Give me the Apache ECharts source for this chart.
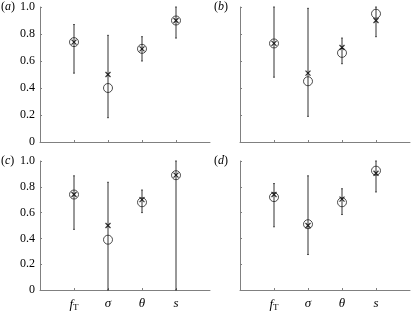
<!DOCTYPE html>
<html><head><meta charset="utf-8">
<script src="https://cdn.jsdelivr.net/npm/echarts@6/dist/echarts.min.js"></script>
<style>html,body{margin:0;padding:0;background:#fff}#c{width:411px;height:312px}</style>
</head><body><div id="c"></div>
<script>
var categories = ['f_T', 'σ', 'θ', 's'];
var panelLabels = ['a', 'b', 'c', 'd'];
var yTicks = [0, 0.2, 0.4, 0.6, 0.8, 1.0];

var aCircle = [0.74, 0.40, 0.69, 0.90];
var aCross  = [0.74, 0.50, 0.69, 0.90];
var aLow    = [0.51, 0.18, 0.60, 0.77];
var aHigh   = [0.87, 0.79, 0.78, 1.00];

var bCircle = [0.73, 0.45, 0.66, 0.95];
var bCross  = [0.73, 0.51, 0.70, 0.90];
var bLow    = [0.48, 0.19, 0.58, 0.78];
var bHigh   = [1.00, 0.99, 0.77, 1.00];

var cCircle = [0.74, 0.39, 0.68, 0.89];
var cCross  = [0.74, 0.50, 0.70, 0.89];
var cLow    = [0.47, 0.00, 0.60, 0.00];
var cHigh   = [0.885, 0.835, 0.775, 1.00];

var dCircle = [0.72, 0.51, 0.68, 0.925];
var dCross  = [0.74, 0.50, 0.705, 0.905];
var dLow    = [0.49, 0.275, 0.585, 0.76];
var dHigh   = [0.825, 0.885, 0.785, 1.00];

var panels = [
  {circle: aCircle, cross: aCross, low: aLow, high: aHigh},
  {circle: bCircle, cross: bCross, low: bLow, high: bHigh},
  {circle: cCircle, cross: cCross, low: cLow, high: cHigh},
  {circle: dCircle, cross: dCross, low: dLow, high: dHigh}
];

var grids = [
  {left: 40, top: 7, width: 170, height: 135},
  {left: 240, top: 7, width: 170, height: 135},
  {left: 40, top: 161, width: 170, height: 133},
  {left: 240, top: 161, width: 170, height: 133}
];

var serif = '"Liberation Serif"';
var axisColor = '#808080';

var chart = echarts.init(document.getElementById('c'), null, {renderer: 'canvas'});

var xAxes = [], yAxes = [], series = [], graphics = [];

panels.forEach(function (p, i) {
  var bottom = i >= 2, left = (i % 2) === 0;
  xAxes.push({
    gridIndex: i, type: 'value', min: 0, max: 5, interval: 1,
    axisLine: {show: true, lineStyle: {color: axisColor, width: 1}},
    splitLine: {show: false},
    axisTick: {show: true, inside: true, length: 2, lineStyle: {color: axisColor}, customValues: [1, 2, 3, 4]},
    axisLabel: {
      show: bottom, margin: 7, customValues: [1, 2, 3, 4],
      formatter: function (v) {
        var n = categories[v - 1];
        if (n === 'f_T') return '{it|f}{sub|T}';
        return '{it|' + n + '}';
      },
      rich: {
        it: {fontFamily: serif, fontStyle: 'italic', fontSize: 13, color: '#000'},
        sub: {fontFamily: serif, fontSize: 9, color: '#000', verticalAlign: 'bottom', padding: [6, 0, 0, 0]}
      }
    }
  });
  yAxes.push({
    gridIndex: i, type: 'value', min: 0, max: 1, interval: 0.2,
    axisLine: {show: true, lineStyle: {color: axisColor, width: 1}},
    splitLine: {show: false},
    axisTick: {show: true, inside: true, length: 2, lineStyle: {color: axisColor}},
    axisLabel: {
      show: left, margin: 5, fontFamily: serif, fontSize: 12, color: '#000',
      formatter: function (v) { return v === 0 ? '0' : v.toFixed(1); }
    }
  });
  var bars = p.low.map(function (lo, k) { return [k + 1, lo, p.high[k]]; });
  series.push({
    type: 'custom', xAxisIndex: i, yAxisIndex: i, data: bars, z: 2,
    renderItem: function (params, api) {
      var x = api.value(0);
      var lo = api.coord([x, api.value(1)]);
      var hi = api.coord([x, api.value(2)]);
      var st = {stroke: '#333', lineWidth: 1};
      return {type: 'group', children: [
        {type: 'line', shape: {x1: lo[0], y1: lo[1], x2: hi[0], y2: hi[1]}, style: st},
        {type: 'line', shape: {x1: lo[0] - 0.8, y1: lo[1], x2: lo[0] + 0.8, y2: lo[1]}, style: st},
        {type: 'line', shape: {x1: hi[0] - 0.8, y1: hi[1], x2: hi[0] + 0.8, y2: hi[1]}, style: st}
      ]};
    }
  });
  series.push({
    type: 'scatter', xAxisIndex: i, yAxisIndex: i, z: 3,
    data: p.circle.map(function (v, k) { return [k + 1, v]; }),
    symbol: 'circle', symbolSize: 9,
    itemStyle: {color: 'rgba(255,255,255,0)', borderColor: '#222', borderWidth: 1},
    silent: true
  });
  series.push({
    type: 'scatter', xAxisIndex: i, yAxisIndex: i, z: 4,
    data: p.cross.map(function (v, k) { return [k + 1, v]; }),
    symbol: 'path://M0,0L10,10M10,0L0,10', symbolSize: 5,
    itemStyle: {color: 'none', borderColor: '#000', borderWidth: 1.2},
    silent: true
  });
  graphics.push({
    type: 'text', left: left ? 1 : 214, top: grids[i].top - 6,
    style: {
      text: '({l|' + panelLabels[i] + '})', fontFamily: serif, fontSize: 12, fill: '#000',
      rich: {l: {fontFamily: serif, fontStyle: 'italic', fontSize: 12, color: '#000'}}
    }
  });
});

chart.setOption({
  animation: false,
  grid: grids,
  xAxis: xAxes,
  yAxis: yAxes,
  series: series,
  graphic: graphics
});
</script>
</body></html>
